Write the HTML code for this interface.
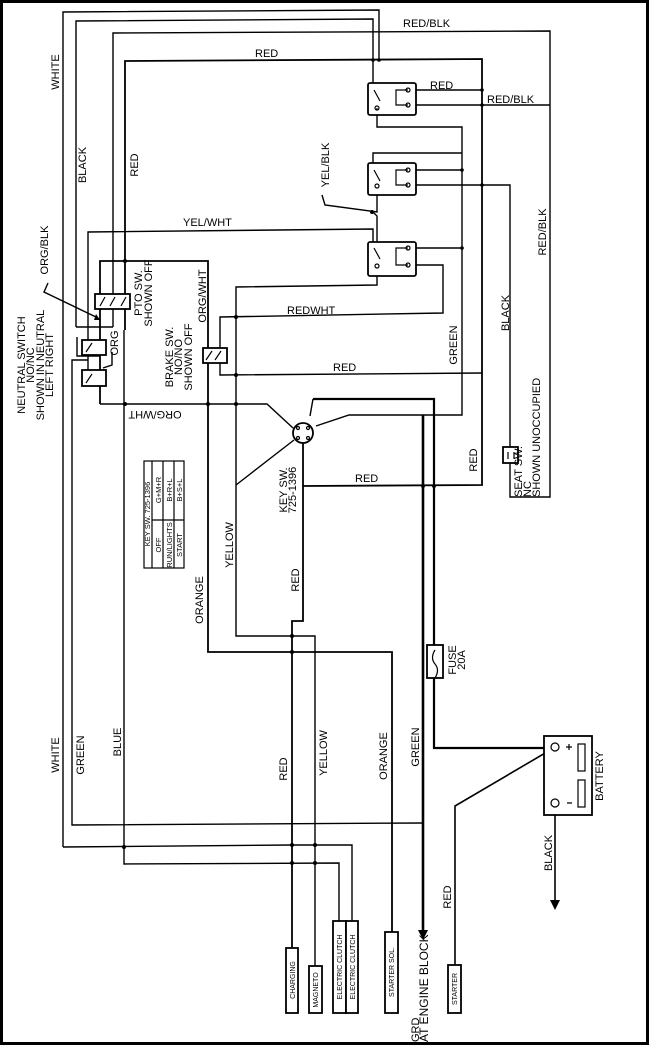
<!DOCTYPE html>
<html><head><meta charset="utf-8"><style>
html,body{margin:0;padding:0;background:#fff}
svg{display:block}
text{font-family:"Liberation Sans",sans-serif;fill:#000}
</style></head><body>
<svg width="650" height="1046" viewBox="0 0 650 1046" xmlns="http://www.w3.org/2000/svg">
<rect x="1.5" y="1.5" width="646" height="1042" fill="none" stroke="#000" stroke-width="3"/>
<g fill="none" stroke="#000" stroke-width="1.4">
<!-- top wires -->
<polyline points="63,847 63,12 379,10 379,60"/>
<polyline points="76,327 76,21 373,19 373,90"/>
<polyline points="113,327 113,33 550,31 550,497 510,497 510,463"/>
<polyline points="125,330 125,61 482,59 482,485 303,486" stroke-width="1.8"/>
<line x1="76" y1="327" x2="113" y2="327"/>
<!-- relay wires -->
<polyline points="377,110 377,127 462,127 462,415 349,415 316,426"/>
<polyline points="373,175 373,153 462,153"/>
<line x1="410" y1="170" x2="462" y2="170"/>
<polyline points="410,185 510,185 510,447"/>
<line x1="410" y1="90" x2="482" y2="90"/>
<line x1="410" y1="105" x2="550" y2="105"/>
<line x1="410" y1="248" x2="462" y2="248"/>
<polyline points="410,265 443,265 443,313 220,317 220,350"/>
<polyline points="220,362 220,375 482,373"/>
<polyline points="88,360 88,232 373,229 373,247"/>
<polyline points="377,270 377,285 236,287 236,636 315,636 315,1013"/>
<polyline points="377,190 377,212 325,205 322,195"/>
<polyline points="373,212 377,216 377,247"/>
<!-- pto box / left -->
<polyline points="100,404 100,261 208,261 208,652 392,652 392,932" stroke-width="1.8"/>
<polyline points="100,404 267,404 293,428"/>
<line x1="236" y1="485" x2="294" y2="440"/>
<polyline points="88,360 88,385"/>
<polyline points="72,388 72,825 422,823"/>
<polyline points="63,847 292,845 352,845 352,921"/>
<polyline points="124,330 124,864 339,863 339,921"/>
<polyline points="303,443 303,621 292,621 292,948" stroke-width="1.8"/>
<polyline points="313,399 434,399 434,645" stroke-width="2.2"/>
<polyline points="434,678 434,748 550,748" stroke-width="2.2"/>
<line x1="423" y1="415" x2="423" y2="930" stroke-width="2.6"/>
<polyline points="455,965 455,806 552,749" stroke-width="1.6"/>
<line x1="555" y1="808" x2="555" y2="900" stroke-width="1.6"/>
<polyline points="313,399 310,416"/>
<!-- ORG/BLK leader -->
<polyline points="48,283 44,292 98,318"/>
<polyline points="103,368 112,365 112,352"/>
<!-- neutral bracket -->
<polyline points="77,337 77,356 100,356"/>
<polyline points="72,388 72,360 88,360"/>
</g>
<!-- arrowheads -->
<polygon points="418,930 428,930 423,940" fill="#000"/>
<polygon points="550,900 560,900 555,910" fill="#000"/>
<polygon points="96,314 100,320 94,320" fill="#000"/>
<!-- dots -->
<g fill="#000">
<circle cx="373" cy="60" r="1.8"/><circle cx="379" cy="60" r="1.8"/><circle cx="482" cy="90" r="1.8"/><circle cx="482" cy="105" r="1.8"/>
<circle cx="462" cy="170" r="1.8"/><circle cx="482" cy="185" r="1.8"/><circle cx="462" cy="248" r="1.8"/>
<circle cx="236" cy="317" r="2"/><circle cx="236" cy="375" r="2"/><circle cx="236" cy="404" r="2"/><circle cx="208" cy="404" r="2"/>
<circle cx="125" cy="261" r="2"/><circle cx="125" cy="404" r="2"/><circle cx="292" cy="636" r="2"/><circle cx="292" cy="652" r="2"/>
<circle cx="292" cy="845" r="2"/><circle cx="315" cy="845" r="2"/><circle cx="292" cy="863" r="2"/><circle cx="315" cy="863" r="2"/><circle cx="124" cy="847" r="2"/>
<circle cx="434" cy="486" r="2"/><circle cx="423" cy="486" r="2"/><circle cx="372" cy="212" r="2"/>
</g>
<!-- relays -->
<g fill="#fff" stroke="#000" stroke-width="1.8">
<rect x="368" y="83" width="48" height="32" rx="2"/>
<rect x="368" y="163" width="48" height="32" rx="2"/>
<rect x="368" y="242" width="48" height="34" rx="2"/>
</g>
<g fill="none" stroke="#000" stroke-width="1.2">
<path d="M374,90 L380,101 M377,108 v2 M408,90 h-12 v15 h12"/>
<path d="M374,170 L380,181 M408,170 h-12 v15 h12"/>
<path d="M374,248 L380,259 M408,248 h-12 v17 h12"/>
<circle cx="408" cy="90" r="2"/><circle cx="408" cy="105" r="2"/><circle cx="377" cy="108" r="2"/>
<circle cx="408" cy="170" r="2"/><circle cx="408" cy="185" r="2"/><circle cx="377" cy="186" r="2"/>
<circle cx="408" cy="248" r="2"/><circle cx="408" cy="265" r="2"/><circle cx="377" cy="266" r="2"/>
</g>
<!-- switches -->
<g fill="#fff" stroke="#000" stroke-width="1.8">
<rect x="95" y="294" width="35" height="15"/>
<rect x="203" y="348" width="24" height="15"/>
<rect x="82" y="340" width="24" height="15"/>
<rect x="82" y="370" width="24" height="16"/>
<rect x="503" y="447" width="15" height="16"/>
<rect x="427" y="645" width="16" height="33"/>
<rect x="544" y="736" width="48" height="79"/>
<circle cx="303" cy="433" r="10"/>
</g>
<g fill="none" stroke="#000" stroke-width="1.2">
<path d="M100,306 l5,-9 M110,306 l5,-9 M121,306 l5,-9 M206,360 l6,-9 M215,360 l6,-9 M86,352 l6,-9 M86,383 l6,-9 M508,452 v7 M514,452 v7 M435,650 q-5,8 0,14 q5,6 0,14"/>
<rect x="578" y="744" width="7" height="27"/><rect x="578" y="780" width="7" height="27"/>
<circle cx="555" cy="747" r="4" fill="#fff"/><circle cx="555" cy="803" r="4" fill="#fff"/>
<path d="M566,747 h6 M569,744 v6 M567,803 h5"/>
<circle cx="298" cy="428" r="1.5"/><circle cx="308" cy="428" r="1.5"/><circle cx="298" cy="438" r="1.5"/><circle cx="308" cy="438" r="1.5"/>
</g>
<!-- bottom connector boxes -->
<g fill="#fff" stroke="#000" stroke-width="1.8">
<rect x="286" y="948" width="12" height="65"/>
<rect x="309" y="966" width="13" height="47"/>
<rect x="333" y="921" width="13" height="92"/>
<rect x="346" y="921" width="12" height="92"/>
<rect x="385" y="932" width="13" height="81"/>
<rect x="448" y="965" width="13" height="48"/>
</g>
<g font-size="7">
<text transform="translate(295,980) rotate(-90)" text-anchor="middle">CHARGING</text>
<text transform="translate(318,990) rotate(-90)" text-anchor="middle">MAGNETO</text>
<text transform="translate(342,967) rotate(-90)" text-anchor="middle">ELECTRIC CLUTCH</text>
<text transform="translate(355,967) rotate(-90)" text-anchor="middle">ELECTRIC CLUTCH</text>
<text transform="translate(394,972) rotate(-90)" text-anchor="middle">STARTER SOL.</text>
<text transform="translate(457,989) rotate(-90)" text-anchor="middle">STARTER</text>
</g>
<!-- key table -->
<g fill="none" stroke="#000" stroke-width="1.2">
<rect x="144" y="461" width="40" height="107"/>
<path d="M152,461 v107 M163,461 v107 M174,461 v107 M152,520 h32"/>
</g>
<g font-size="7.5">
<text transform="translate(150,514) rotate(-90)" text-anchor="middle">KEY SW. 725-1396</text>
<text transform="translate(161,545) rotate(-90)" text-anchor="middle">OFF</text>
<text transform="translate(161,490) rotate(-90)" text-anchor="middle">G+M+R</text>
<text transform="translate(172,545) rotate(-90)" text-anchor="middle">RUN/LIGHTS</text>
<text transform="translate(172,490) rotate(-90)" text-anchor="middle">B+R+L</text>
<text transform="translate(182,545) rotate(-90)" text-anchor="middle">START</text>
<text transform="translate(182,490) rotate(-90)" text-anchor="middle">B+S+L</text>
</g>
<!-- horizontal labels -->
<g font-size="11">
<text x="403" y="27">RED/BLK</text>
<text x="255" y="57">RED</text>
<text x="430" y="89">RED</text>
<text x="487" y="103">RED/BLK</text>
<text x="183" y="226">YEL/WHT</text>
<text x="287" y="314">REDWHT</text>
<text x="333" y="371">RED</text>
<text x="355" y="482">RED</text>
<text transform="translate(155,411) rotate(180)" text-anchor="middle">ORG/WHT</text>
</g>
<!-- vertical labels -->
<g font-size="11" text-anchor="middle">
<text transform="translate(59,72) rotate(-90)">WHITE</text>
<text transform="translate(86,165) rotate(-90)">BLACK</text>
<text transform="translate(138,165) rotate(-90)">RED</text>
<text transform="translate(329,165) rotate(-90)">YEL/BLK</text>
<text transform="translate(48,250) rotate(-90)">ORG/BLK</text>
<text transform="translate(118,343) rotate(-90)">ORG</text>
<text transform="translate(142,293) rotate(-90)">PTO SW.</text>
<text transform="translate(152,293) rotate(-90)">SHOWN OFF</text>
<text transform="translate(173,357) rotate(-90)">BRAKE SW.</text>
<text transform="translate(182,357) rotate(-90)">NO/NO</text>
<text transform="translate(192,357) rotate(-90)">SHOWN OFF</text>
<text transform="translate(206,296) rotate(-90)">ORG/WHT</text>
<text transform="translate(25,365) rotate(-90)">NEUTRAL SWITCH</text>
<text transform="translate(34,365) rotate(-90)">NO/NC</text>
<text transform="translate(44,365) rotate(-90)">SHOWN IN NEUTRAL</text>
<text transform="translate(53,365) rotate(-90)">LEFT RIGHT</text>
<text transform="translate(457,345) rotate(-90)">GREEN</text>
<text transform="translate(509,313) rotate(-90)">BLACK</text>
<text transform="translate(546,232) rotate(-90)">RED/BLK</text>
<text transform="translate(477,460) rotate(-90)">RED</text>
<text transform="translate(287,490) rotate(-90)">KEY SW.</text>
<text transform="translate(296,490) rotate(-90)">725-1396</text>
<text transform="translate(233,545) rotate(-90)">YELLOW</text>
<text transform="translate(203,600) rotate(-90)">ORANGE</text>
<text transform="translate(299,580) rotate(-90)">RED</text>
<text transform="translate(456,660) rotate(-90)">FUSE</text>
<text transform="translate(465,660) rotate(-90)">20A</text>
<text transform="translate(59,755) rotate(-90)">WHITE</text>
<text transform="translate(84,755) rotate(-90)">GREEN</text>
<text transform="translate(121,742) rotate(-90)">BLUE</text>
<text transform="translate(287,769) rotate(-90)">RED</text>
<text transform="translate(327,753) rotate(-90)">YELLOW</text>
<text transform="translate(387,756) rotate(-90)">ORANGE</text>
<text transform="translate(419,747) rotate(-90)">GREEN</text>
<text transform="translate(552,853) rotate(-90)">BLACK</text>
<text transform="translate(451,897) rotate(-90)">RED</text>
<text transform="translate(603,776) rotate(-90)">BATTERY</text>
</g>
<g font-size="11" text-anchor="start">
<text transform="translate(522,497) rotate(-90)">SEAT SW.</text>
<text transform="translate(531,497) rotate(-90)">NC</text>
<text transform="translate(540,497) rotate(-90)">SHOWN UNOCCUPIED</text>
<text transform="translate(419,1042) rotate(-90)">GRD</text>
<text transform="translate(428,1042) rotate(-90)" font-size="12">AT ENGINE BLOCK</text>
</g>
</svg>
</body></html>
